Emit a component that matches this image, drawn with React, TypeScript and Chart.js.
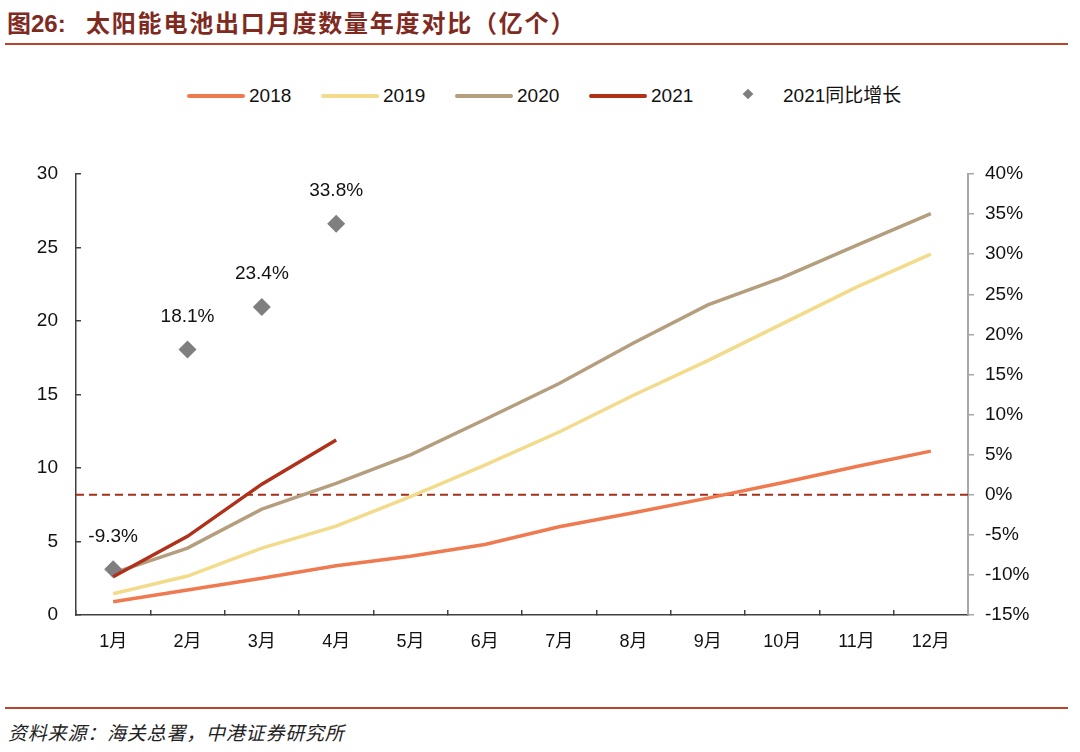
import { useEffect, useRef } from 'react'
import { Chart, registerables } from 'chart.js'

Chart.register(...registerables)

const months = ['1月', '2月', '3月', '4月', '5月', '6月', '7月', '8月', '9月', '10月', '11月', '12月']
const y2018 = [0.9, 1.7, 2.5, 3.35, 4.0, 4.8, 6.0, 6.95, 7.95, 9.0, 10.1, 11.15]
const y2019 = [1.45, 2.65, 4.55, 6.05, 8.05, 10.2, 12.45, 14.95, 17.3, 19.8, 22.3, 24.55]
const y2020 = [2.85, 4.55, 7.2, 8.95, 10.9, 13.3, 15.75, 18.5, 21.1, 22.95, 25.15, 27.3]
const y2021 = [2.6, 5.35, 8.9, 11.9]
const growth2021 = [-9.3, 18.1, 23.4, 33.8]
const ZERO = 0

const FONT = '"Liberation Sans", "Noto Sans CJK SC", sans-serif'
const C2018 = '#F07A50'
const C2019 = '#F2DB8A'
const C2020 = '#B49E7E'
const C2021 = '#B0311A'
const CDIAMOND = '#7F7F7F'
const RULE = '#B8452C'

const zeroLine = {
  id: 'zeroLine',
  beforeDatasetsDraw(chart: any) {
    const { ctx, chartArea } = chart
    const y = chart.scales.y1.getPixelForValue(ZERO)
    ctx.save()
    ctx.strokeStyle = '#A5301A'
    ctx.lineWidth = 2.2
    ctx.setLineDash([8, 5])
    ctx.beginPath()
    ctx.moveTo(chartArea.left, y)
    ctx.lineTo(chartArea.right, y)
    ctx.stroke()
    ctx.restore()
  },
}

const growthLabels = {
  id: 'growthLabels',
  afterDatasetsDraw(chart: any) {
    const { ctx } = chart
    const idx = chart.data.datasets.findIndex((d: any) => d.label === '2021同比增长')
    const meta = chart.getDatasetMeta(idx)
    ctx.save()
    ctx.font = `19px ${FONT}`
    ctx.fillStyle = '#111'
    ctx.textAlign = 'center'
    ctx.textBaseline = 'middle'
    meta.data.forEach((pt: any, i: number) => {
      const v = growth2021[i]
      if (v == null) return
      ctx.fillText(`${v}%`, pt.x, pt.y - 33)
    })
    ctx.restore()
  },
}

const legendItems = [
  { label: '2018', color: C2018, x: 187 },
  { label: '2019', color: C2019, x: 321 },
  { label: '2020', color: C2020, x: 455 },
  { label: '2021', color: C2021, x: 589 },
]

export default function App() {
  const canvasRef = useRef<HTMLCanvasElement>(null)
  const chartRef = useRef<any>(null)

  useEffect(() => {
    if (!canvasRef.current) return
    if (chartRef.current) chartRef.current.destroy()

    chartRef.current = new Chart(canvasRef.current, {
      type: 'line',
      data: {
        labels: months,
        datasets: [
          { label: '2021', data: y2021, borderColor: C2021, borderWidth: 3.5, pointRadius: 0, yAxisID: 'y', order: 0 },
          {
            label: '2021同比增长', data: growth2021, showLine: false, yAxisID: 'y1', order: 1,
            pointStyle: 'rectRot', pointRadius: 9, pointBackgroundColor: CDIAMOND, pointBorderWidth: 0, borderColor: CDIAMOND,
          },
          { label: '2020', data: y2020, borderColor: C2020, borderWidth: 3.5, pointRadius: 0, yAxisID: 'y', order: 2 },
          { label: '2019', data: y2019, borderColor: C2019, borderWidth: 3.5, pointRadius: 0, yAxisID: 'y', order: 3 },
          { label: '2018', data: y2018, borderColor: C2018, borderWidth: 3.5, pointRadius: 0, yAxisID: 'y', order: 4 },
        ],
      },
      options: {
        animation: false,
        responsive: true,
        maintainAspectRatio: false,
        layout: { padding: { top: 174, left: 0, right: 0, bottom: 0 } },
        plugins: { legend: { display: false }, tooltip: { enabled: false } },
        scales: {
          x: {
            offset: true,
            grid: { offset: true, drawOnChartArea: false, tickLength: -5, color: '#404040', lineWidth: 1.5 },
            border: { color: '#404040', width: 1.5 },
            ticks: { color: '#111', padding: 21, font: { family: FONT, size: 18 }, maxRotation: 0 },
            afterFit: (s: any) => { s.height = 85 },
          },
          y: {
            position: 'left',
            min: 0, max: 30,
            grid: { drawOnChartArea: false, tickLength: -5, color: '#404040', lineWidth: 1.5 },
            border: { color: '#404040', width: 1.5 },
            ticks: { stepSize: 5, color: '#111', padding: 23, font: { family: FONT, size: 19 } },
            afterFit: (s: any) => { s.width = 76 },
          },
          y1: {
            position: 'right',
            min: -15, max: 40,
            grid: { drawOnChartArea: false, tickLength: 6, color: '#A6A6A6', lineWidth: 1.5 },
            border: { color: '#A6A6A6', width: 2 },
            ticks: { stepSize: 5, color: '#111', padding: 11, font: { family: FONT, size: 19 }, callback: (v: any) => `${v}%` },
            afterFit: (s: any) => { s.width = 112 },
          },
        },
      },
      plugins: [zeroLine, growthLabels],
    })

    return () => { if (chartRef.current) chartRef.current.destroy() }
  }, [])

  return (
    <div style={{ position: 'absolute', left: 0, top: 0, width: 1080, height: 752, background: '#fff', overflow: 'hidden' }}>
      <div style={{ position: 'absolute', left: 7, top: 9, height: 26, lineHeight: '26px', fontSize: 24, fontWeight: 'bold', color: '#7F2A1F', fontFamily: '"Noto Sans CJK SC", sans-serif', whiteSpace: 'nowrap' }}>
        图<span style={{ fontFamily: FONT }}>26:</span>
      </div>
      <div style={{ position: 'absolute', left: 86, top: 9, height: 26, lineHeight: '26px', fontSize: 24, fontWeight: 'bold', letterSpacing: 1.8, color: '#7F2A1F', fontFamily: '"Noto Sans CJK SC", sans-serif', whiteSpace: 'nowrap' }}>
        太阳能电池出口月度数量年度对比（亿个）
      </div>
      <div style={{ position: 'absolute', left: 5, top: 43, width: 1063, height: 2, background: RULE }} />

      {legendItems.map(it => (
        <div key={it.label} style={{ position: 'absolute', left: it.x, top: 85, height: 22, display: 'flex', alignItems: 'center', fontFamily: FONT, fontSize: 19, color: '#111' }}>
          <div style={{ width: 58, height: 4, borderRadius: 2, background: it.color, marginRight: 4 }} />
          <span>{it.label}</span>
        </div>
      ))}
      <div style={{ position: 'absolute', left: 744, top: 90, width: 8, height: 8, background: CDIAMOND, transform: 'rotate(45deg) scale(0.95, 0.95)' }} />
      <div style={{ position: 'absolute', left: 783, top: 85, height: 22, lineHeight: '22px', fontFamily: FONT, fontSize: 19, color: '#111', whiteSpace: 'nowrap' }}>
        2021同比增长
      </div>

      <div style={{ position: 'absolute', left: 0, top: 0, width: 1080, height: 700 }}>
        <canvas ref={canvasRef} />
      </div>

      <div style={{ position: 'absolute', left: 5, top: 707, width: 1063, height: 2, background: RULE }} />
      <div style={{ position: 'absolute', left: 8, top: 720, height: 24, lineHeight: '24px', fontSize: 19, fontStyle: 'italic', letterSpacing: 0.8, color: '#222', fontFamily: '"Noto Sans CJK SC", sans-serif', whiteSpace: 'nowrap' }}>
        资料来源：海关总署，中港证券研究所
      </div>
    </div>
  )
}
